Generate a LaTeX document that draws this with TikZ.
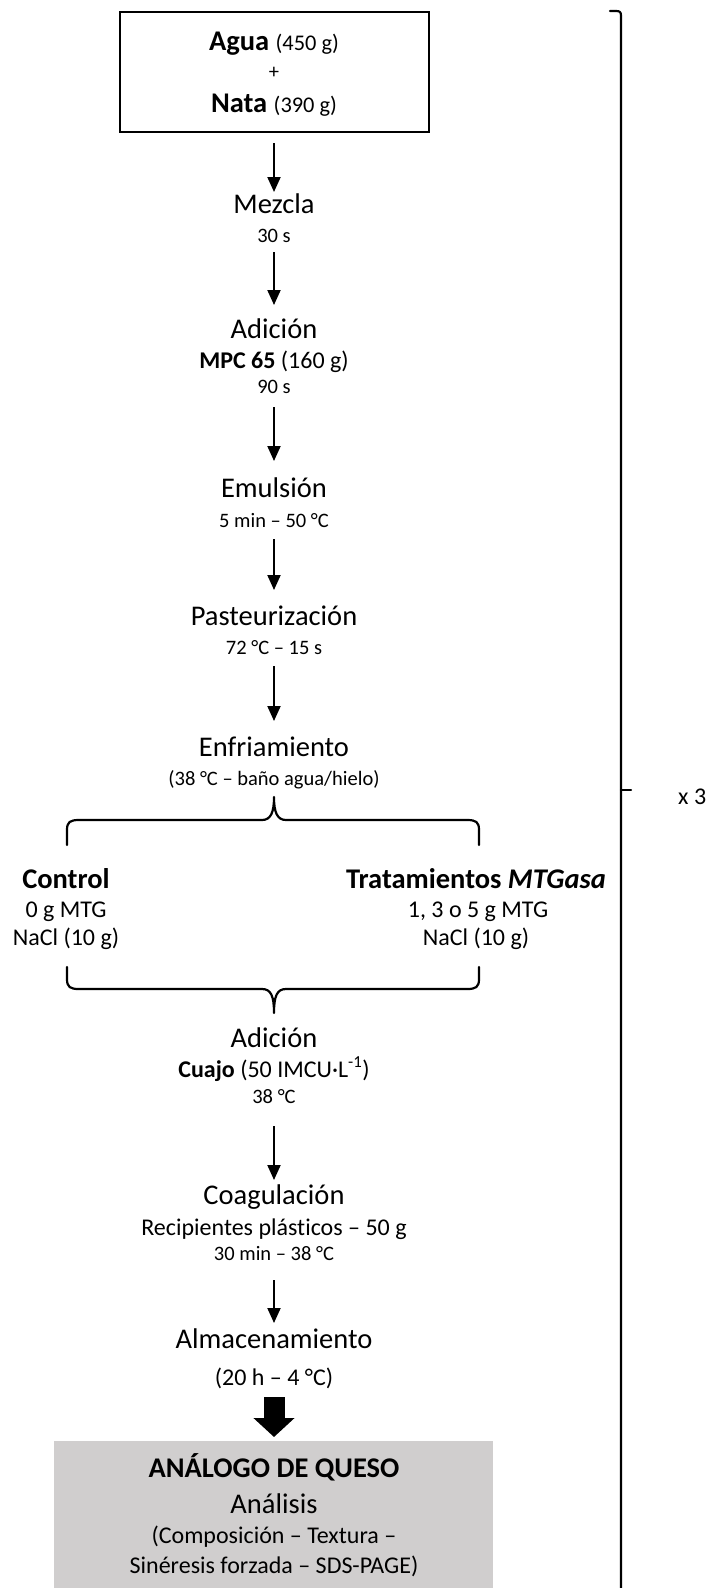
\documentclass[tikz,border=0pt]{standalone}
\usepackage{fontspec}
\setmainfont{Carlito}[RawFeature={-liga;-dlig;-clig}]
\usetikzlibrary{arrows.meta}
\definecolor{boxgray}{RGB}{208,206,206}
\begin{document}
\begin{tikzpicture}[x=1pt,y=-1pt,
  big/.style={font=\fontsize{28.5}{34}\selectfont, anchor=base, inner sep=0pt},
  mid/.style={font=\fontsize{24}{29}\selectfont, anchor=base, inner sep=0pt},
  sml/.style={font=\fontsize{20.5}{25}\selectfont, anchor=base, inner sep=0pt},
  arr/.style={line width=2pt, -{Triangle[width=13pt,length=15pt]}},
  brc/.style={line width=2.2pt, line join=round, line cap=round}]
\useasboundingbox (0,0) rectangle (705,1588);

% top box
\node[draw, line width=2pt, minimum width=309pt, minimum height=120pt, inner sep=0pt] (box) at (274.5,72) {};
\node[big] (agua) at (274,50) {\textbf{Agua} {\fontsize{22.4}{27}\selectfont (450 g)}};
\node[sml, anchor=center] (plus) at (274,73) {+};
\node[big] (nata) at (274,112) {\textbf{Nata} {\fontsize{22.4}{27}\selectfont (390 g)}};

\coordinate (a1s) at (274,143); \coordinate (a1e) at (274,192);
\draw[arr] (a1s) -- (a1e);
\node[big] (mezcla) at (274,213) {Mezcla};
\node[sml] (mezt) at (274,242) {30 s};

\coordinate (a2s) at (274,252); \coordinate (a2e) at (274,305);
\draw[arr] (a2s) -- (a2e);
\node[big] (adic1) at (274,338) {Adición};
\node[mid] (mpc) at (274,368) {\textbf{MPC 65} (160 g)};
\node[sml] (adt) at (274,393) {90 s};

\coordinate (a3s) at (274,407); \coordinate (a3e) at (274,461);
\draw[arr] (a3s) -- (a3e);
\node[big] (emul) at (274,497) {Emulsión};
\node[sml] (emt) at (274,527) {5 min – 50 °C};

\coordinate (a4s) at (274,539); \coordinate (a4e) at (274,590);
\draw[arr] (a4s) -- (a4e);
\node[big] (past) at (274,625) {Pasteurización};
\node[sml] (pat) at (274,654) {72 °C – 15 s};

\coordinate (a5s) at (274,666); \coordinate (a5e) at (274,721);
\draw[arr] (a5s) -- (a5e);
\node[big] (enf) at (274,756) {Enfriamiento};
\node[sml] (enft) at (274,785) {(38 °C – baño agua/hielo)};

% upper brace
\draw[brc] (67,845) -- (67,830) .. controls (67,822) and (70,820) .. (79,820)
  -- (262,820) .. controls (271,820) and (274,812) .. (274,797)
  .. controls (274,812) and (277,820) .. (286,820)
  -- (467,820) .. controls (476,820) and (479,822) .. (479,830) -- (479,845);

\node[big] (ctrl) at (66,888) {\textbf{Control}};
\node[mid] (ctrl1) at (66,917) {0 g MTG};
\node[mid] (ctrl2) at (66,945) {NaCl (10 g)};

\node[big] (trat) at (476,888) {\textbf{Tratamientos \textit{MTGasa}}};
\node[mid] (trat1) at (478,917) {1, 3 o 5 g MTG};
\node[mid] (trat2) at (476,945) {NaCl (10 g)};

% lower brace
\draw[brc] (67,967) -- (67,979) .. controls (67,987) and (70,989) .. (79,989)
  -- (262,989) .. controls (271,989) and (274,996) .. (274,1013)
  .. controls (274,996) and (277,989) .. (286,989)
  -- (467,989) .. controls (476,989) and (479,987) .. (479,979) -- (479,967);

\node[big] (adic2) at (274,1047) {Adición};
\node[mid] (cuajo) at (274,1077) {\textbf{Cuajo} (50 IMCU·L\textsuperscript{-1})};
\node[sml] (adt2) at (274,1103) {38 °C};

\coordinate (a6s) at (274,1126); \coordinate (a6e) at (274,1180);
\draw[arr] (a6s) -- (a6e);
\node[big] (coag) at (274,1204) {Coagulación};
\node[mid] (coag1) at (274,1235) {Recipientes plásticos – 50 g};
\node[sml] (coag2) at (274,1260) {30 min – 38 °C};

\coordinate (a7s) at (274,1280); \coordinate (a7e) at (274,1323);
\draw[arr] (a7s) -- (a7e);
\node[big] (alm) at (274,1348) {Almacenamiento};
\node[mid] (almt) at (274,1385) {(20 h – 4 °C)};

% result
\node[fill=boxgray, inner sep=0pt, minimum width=439pt, minimum height=147pt] (res) at (273.5,1514.5) {};
\coordinate (t1) at (274,1397); \coordinate (t2) at (274,1437);
\draw[line width=21pt, -{Triangle[width=40pt,length=19pt]}] (t1) -- (t2);
\node[big] (analogo) at (274,1477) {\textbf{ANÁLOGO DE QUESO}};
\node[big] (anal) at (274,1513) {Análisis};
\node[mid] (anal1) at (274,1543) {(Composición – Textura –};
\node[mid] (anal2) at (274,1573) {Sinéresis forzada – SDS-PAGE)};

% right brace
\draw[brc] (610,11) -- (616,11) .. controls (620,11) and (621,12) .. (621,16) -- (621,1590);
\coordinate (rb) at (621,790); \coordinate (rbt) at (631,790);
\draw[brc] (rb) -- (rbt);
\node[mid, anchor=west] (x3) at (678,797) {x 3};
\end{tikzpicture}
\end{document}
